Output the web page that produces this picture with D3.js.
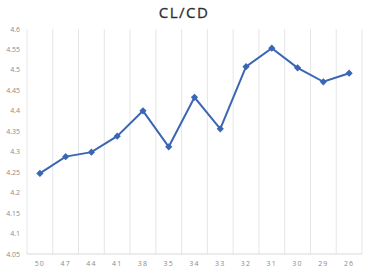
<!DOCTYPE html>
<html>
<head>
<meta charset="utf-8">
<script src="https://d3js.org/d3.v7.min.js"></script>
<style>
body { margin: 0; background: #fff; }
text { font-family: "Open Sans", "DejaVu Sans", sans-serif; }
</style>
</head>
<body>
<svg id="chart" width="375" height="275"></svg>
<script>
const categories = ["50", "47", "44", "41", "38", "35", "34", "33", "32", "31", "30", "29", "26"];
const values = [4.247, 4.288, 4.299, 4.338, 4.400, 4.312, 4.433, 4.356, 4.508, 4.553, 4.505, 4.471, 4.492];
const yTicks = [4.05, 4.1, 4.15, 4.2, 4.25, 4.3, 4.35, 4.4, 4.45, 4.5, 4.55, 4.6];

const svg = d3.select("#chart");
const margin = {left: 27, right: 13, top: 29, bottom: 21};
const width = +svg.attr("width");
const height = +svg.attr("height");

const x = d3.scaleBand()
            .domain(categories)
            .range([margin.left, width - margin.right]);
const y = d3.scaleLinear()
            .domain([4.05, 4.6])
            .range([height - margin.bottom, margin.top]);

// vertical gridlines at category boundaries
const bounds = categories.map(c => x(c)).concat([x.range()[1]]);
svg.append("g")
   .selectAll("line")
   .data(bounds)
   .join("line")
   .attr("x1", d => d).attr("x2", d => d)
   .attr("y1", margin.top).attr("y2", height - margin.bottom)
   .attr("stroke", "#e6e6e6")
   .attr("stroke-width", 1);

// x axis line
svg.append("line")
   .attr("x1", margin.left).attr("x2", width - margin.right)
   .attr("y1", height - margin.bottom).attr("y2", height - margin.bottom)
   .attr("stroke", "#d9d9d9");

// y tick labels
svg.append("g")
   .selectAll("text")
   .data(yTicks)
   .join("text")
   .attr("x", 20)
   .attr("y", d => y(d) + 2.5)
   .attr("text-anchor", "end")
   .attr("font-size", 7)
   .attr("fill", "#8c8c8c")
   .text(d => d3.format("")(+d.toFixed(2)));

// x tick labels
svg.append("g")
   .selectAll("text")
   .data(categories)
   .join("text")
   .attr("x", d => x(d) + x.bandwidth() / 2)
   .attr("y", height - 9)
   .attr("text-anchor", "middle")
   .attr("font-size", 7)
   .attr("letter-spacing", 1.2)
   .attr("fill", "#8c8c8c")
   .text(d => d);

// title
svg.append("text")
   .attr("x", 184)
   .attr("y", 18)
   .attr("text-anchor", "middle")
   .attr("font-size", 15)
   .attr("letter-spacing", 1.5)
   .attr("fill", "#2e2e2e")
   .attr("stroke", "#2e2e2e")
   .attr("stroke-width", 0.3)
   .text("CL/CD");

const line = d3.line()
               .x((d, i) => x(categories[i]) + x.bandwidth() / 2)
               .y(d => y(d));

svg.append("path")
   .datum(values)
   .attr("d", line)
   .attr("fill", "none")
   .attr("stroke", "#3a66b4")
   .attr("stroke-width", 2);

// square diamond markers
svg.append("g")
   .selectAll("path")
   .data(values)
   .join("path")
   .attr("transform", (d, i) => "translate(" + (x(categories[i]) + x.bandwidth() / 2) + "," + y(d) + ") rotate(45)")
   .attr("d", d3.symbol().type(d3.symbolSquare).size(26))
   .attr("fill", "#3a66b4");
</script>
</body>
</html>
